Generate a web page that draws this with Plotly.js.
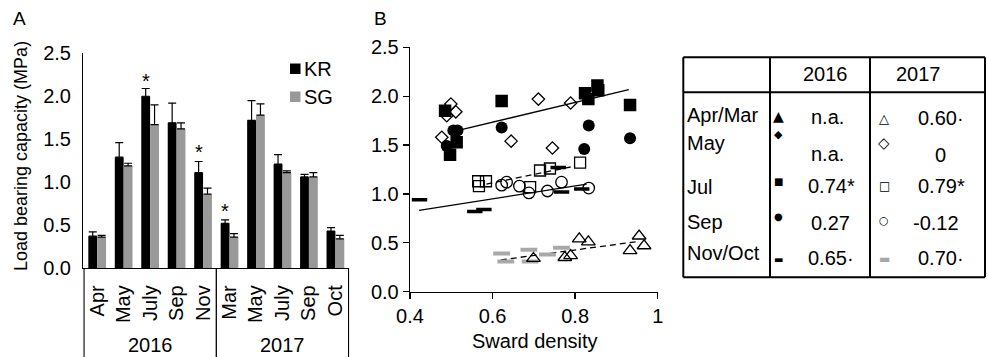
<!DOCTYPE html>
<html>
<head>
<meta charset="utf-8">
<script src="https://cdn.plot.ly/plotly-3.0.1.min.js"></script>
<style>html,body{margin:0;padding:0;background:#fff;}#chart{width:988px;height:357px;}</style>
</head>
<body>
<div id="chart"></div>
<script>
// ---------- Panel A data ----------
const months = ['Apr','May','July','Sep','Nov','Mar','May','July','Sep','Oct'];
const monthYears = ['2016','2016','2016','2016','2016','2017','2017','2017','2017','2017'];
const krValues = [0.37,1.29,2.00,1.69,1.11,0.52,1.72,1.21,1.06,0.43];
const krErr    = [0.05,0.17,0.09,0.23,0.13,0.04,0.23,0.11,0.03,0.04];
const sgValues = [0.36,1.19,1.67,1.62,0.86,0.36,1.78,1.11,1.06,0.34];
const sgErr    = [0.02,0.03,0.23,0.07,0.07,0.04,0.13,0.02,0.05,0.04];
const starIdx  = [2,4,5];
const starY    = [2.235,1.41,0.726];
const yearLabels = ['2016','2017'];

// ---------- Panel B data (sward density vs load bearing capacity) ----------
const jul16X = [0.485,0.497,0.513,0.622,0.824,0.832,0.854,0.856,0.933];
const jul16Y = [1.85,1.40,1.53,1.95,2.03,1.97,2.11,2.06,1.91];
const sep16X = [0.489,0.505,0.515,0.622,0.833,0.822,0.933];
const sep16Y = [1.49,1.65,1.65,1.68,1.70,1.46,1.57];
const nov16X = [0.423,0.557,0.579,0.759,0.767,0.816];
const nov16Y = [0.94,0.82,0.84,1.27,1.02,1.05];
const mar17X = [0.699,0.775,0.789,0.810,0.832,0.933,0.955,0.967];
const mar17Y = [0.34,0.35,0.37,0.54,0.51,0.42,0.57,0.47];
const may17X = [0.477,0.489,0.499,0.511,0.645,0.711,0.745,0.789];
const may17Y = [1.58,1.80,1.92,1.84,1.54,1.97,1.47,1.93];
const jul17X = [0.565,0.567,0.584,0.691,0.715,0.739,0.812];
const jul17Y = [1.13,1.08,1.13,1.07,1.24,1.26,1.32];
const sep17X = [0.622,0.634,0.665,0.688,0.733,0.767,0.833];
const sep17Y = [1.09,1.12,1.08,1.01,1.03,1.12,1.06];
const oct17X = [0.622,0.632,0.688,0.691,0.733,0.767];
const oct17Y = [0.39,0.31,0.43,0.31,0.38,0.45];
// fitted lines (end points)
const fitJul16X = [0.512,0.930]; const fitJul16Y = [1.645,2.068];
const fitNov16X = [0.422,0.828]; const fitNov16Y = [0.833,1.100];
const fitJul17X = [0.585,0.800]; const fitJul17Y = [1.100,1.285];
const fitMar17X = [0.620,0.955]; const fitMar17Y = [0.325,0.515];
const xTicksB = [0.4,0.6,0.8,1];
const xTickTextB = ['0.4','0.6','0.8','1'];

// ---------- Table data ----------
const tableRows = ['Apr/Mar','May','Jul','Sep','Nov/Oct'];
const tableHead = ['2016','2017'];
const r2016 = ['n.a.','n.a.','0.74*','0.27','0.65·'];
const r2017 = ['0.60·','0','0.79*','-0.12','0.70·'];
const sym2016 = ['▲','◆','■','●','▬'];
const sym2017 = ['△','◇','□','○','▬'];

// ---------- helpers ----------
const W = 988, H = 357;
const PX = x => x / W;
const PY = y => 1 - y / H;
const FONT = 'Arial, "Liberation Sans", Helvetica, sans-serif';
const FS = 20;
const catIds = months.map((m, i) => monthYears[i] + ' ' + m);

const traces = [];
traces.push({
  type: 'bar', name: 'KR', x: catIds, y: krValues, xaxis: 'x', yaxis: 'y',
  marker: {color: '#000000'},
  error_y: {type: 'data', array: krErr, arrayminus: krErr.map(() => 0), symmetric: false, color: '#000', thickness: 1.2, width: 4},
  showlegend: false
});
traces.push({
  type: 'bar', name: 'SG', x: catIds, y: sgValues, xaxis: 'x', yaxis: 'y',
  marker: {color: '#999999'},
  error_y: {type: 'data', array: sgErr, arrayminus: sgErr.map(() => 0), symmetric: false, color: '#000', thickness: 1.2, width: 4},
  showlegend: false
});

function lineTrace(xs, ys, dash) {
  return {type: 'scatter', mode: 'lines', x: xs, y: ys, xaxis: 'x2', yaxis: 'y2',
    line: {color: '#000', width: 1.3, dash: dash}, showlegend: false, hoverinfo: 'skip'};
}
function ptTrace(name, xs, ys, marker) {
  return {type: 'scatter', mode: 'markers', name: name, x: xs, y: ys, xaxis: 'x2', yaxis: 'y2',
    marker: marker, showlegend: false};
}
traces.push(lineTrace(fitJul16X, fitJul16Y, 'solid'));
traces.push(lineTrace(fitNov16X, fitNov16Y, 'solid'));
traces.push(lineTrace(fitJul17X, fitJul17Y, '6px,4px'));
traces.push(lineTrace(fitMar17X, fitMar17Y, '6px,4px'));
traces.push(ptTrace('Oct 2017', oct17X, oct17Y, {symbol: 'line-ew', size: 12, line: {color: '#a8a8a8', width: 4}}));
traces.push(ptTrace('Nov 2016', nov16X, nov16Y, {symbol: 'line-ew', size: 11, line: {color: '#000', width: 3.5}}));
traces.push(ptTrace('Jul 2016', jul16X, jul16Y, {symbol: 'square', size: 12.5, color: '#000'}));
traces.push(ptTrace('Sep 2016', sep16X, sep16Y, {symbol: 'circle', size: 12, color: '#000'}));
traces.push(ptTrace('May 2017', may17X, may17Y, {symbol: 'diamond-open', size: 9.5, color: '#000', line: {width: 1.3}}));
traces.push(ptTrace('Jul 2017', jul17X, jul17Y, {symbol: 'square-open', size: 11, color: '#000', line: {width: 1.3}}));
traces.push(ptTrace('Sep 2017', sep17X, sep17Y, {symbol: 'circle-open', size: 11.5, color: '#000', line: {width: 1.3}}));
traces.push(ptTrace('Mar 2017', mar17X, mar17Y, {symbol: 'triangle-up-open', size: 12, color: '#000', line: {width: 1.3}}));

const ann = [];
const shapes = [];
function txt(x, y, text, opts) {
  ann.push(Object.assign({xref: 'paper', yref: 'paper', x: PX(x), y: PY(y), text: text, showarrow: false,
    xanchor: 'center', yanchor: 'middle', font: {family: FONT, size: FS, color: '#000'}}, opts || {}));
}
function hline(x0, x1, y, w) { shapes.push({type: 'line', xref: 'paper', yref: 'paper', x0: PX(x0), x1: PX(x1), y0: PY(y), y1: PY(y), line: {color: '#000', width: w}}); }
function vline(x, y0, y1, w) { shapes.push({type: 'line', xref: 'paper', yref: 'paper', x0: PX(x), x1: PX(x), y0: PY(y0), y1: PY(y1), line: {color: '#000', width: w}}); }

// panel letters and titles
txt(19, 18, 'A', {font: {family: FONT, size: 19, color: '#000'}});
txt(380, 18, 'B', {font: {family: FONT, size: 19, color: '#000'}});
txt(21, 156, 'Load bearing capacity (MPa)', {textangle: -90, font: {family: FONT, size: 18, color: '#000'}});
txt(535, 341, 'Sward density');

// year group labels + dividers under panel A
ann.push({xref: 'x', yref: 'paper', x: 2, y: PY(345), yanchor: 'middle', text: yearLabels[0], showarrow: false, font: {family: FONT, size: FS, color: '#000'}});
ann.push({xref: 'x', yref: 'paper', x: 7, y: PY(345), yanchor: 'middle', text: yearLabels[1], showarrow: false, font: {family: FONT, size: FS, color: '#000'}});
[-0.5, 4.5, 9.5].forEach(v => shapes.push({type: 'line', xref: 'x', yref: 'paper', x0: v, x1: v, y0: 0, y1: PY(268), line: {color: '#000', width: 1.3}}));

// significance stars
starIdx.forEach((i, k) => ann.push({xref: 'x', yref: 'y', x: catIds[i], y: starY[k], yanchor: 'middle', text: '*', showarrow: false,
  xshift: -4.5, yshift: -5, font: {family: FONT, size: 20, color: '#000'}}));

// manual legend
shapes.push({type: 'rect', xref: 'paper', yref: 'paper', x0: PX(290), x1: PX(300.5), y0: PY(74), y1: PY(63.5), fillcolor: '#000', line: {width: 0}});
shapes.push({type: 'rect', xref: 'paper', yref: 'paper', x0: PX(290), x1: PX(300.5), y0: PY(102), y1: PY(91.5), fillcolor: '#999999', line: {width: 0}});
txt(301.5, 69, 'KR', {xanchor: 'left'});
txt(301.5, 97, 'SG', {xanchor: 'left'});

// table
const T = {l: 683.3, r: 985, t: 57.3, b: 277.3, hb: 92.3, c1: 770, c2: 870};
hline(T.l, T.r, T.t, 2); hline(T.l, T.r, T.b, 2); hline(T.l, T.r, T.hb, 2);
vline(T.l, T.t, T.b, 2); vline(T.r, T.t, T.b, 2); vline(T.c1, T.t, T.b, 2); vline(T.c2, T.t, T.b, 2);
txt(825, 74, tableHead[0]);
txt(918, 74, tableHead[1]);
const rowLabY = [115, 143.3, 186.7, 221.7, 253.3];
const v16Y = [117.3, 154, 185.7, 222.7, 258.3];
const v17Y = [118, 155, 185.7, 222.7, 258.3];
const v16X = [809, 809, 806, 809, 806];
const v17X = [916, 933, 916, 911, 916];
const s16Y = [116, 134.3, 181.7, 216.7, 259];
const s17Y = [118.3, 143.3, 185.7, 220, 259.3];
const s16Size = [14, 11, 10, 10, 10];
const s17Size = [13, 15, 12, 11, 12];
tableRows.forEach((r, i) => {
  txt(684.5, rowLabY[i], r, {xanchor: 'left'});
  txt(v16X[i], v16Y[i], r2016[i], {xanchor: 'left'});
  txt(v17X[i], v17Y[i], r2017[i], {xanchor: 'left'});
  txt(778.5, s16Y[i], sym2016[i], {font: {family: '"DejaVu Sans", sans-serif', size: s16Size[i], color: '#000'}});
  txt(884, s17Y[i], sym2017[i], {font: {family: '"DejaVu Sans", sans-serif', size: s17Size[i], color: i === 4 ? '#a8a8a8' : '#000'}});
});

const axisFont = {family: FONT, size: FS, color: '#000'};
const layout = {
  width: W, height: H,
  margin: {l: 0, r: 0, t: 0, b: 0},
  paper_bgcolor: '#fff', plot_bgcolor: 'rgba(0,0,0,0)',
  font: {family: FONT, size: FS, color: '#000'},
  barmode: 'group', bargap: 0.33, bargroupgap: 0,
  showlegend: false,
  xaxis: {domain: [PX(83.3), PX(349.3)], anchor: 'y', type: 'category', categoryorder: 'array', categoryarray: catIds,
    tickmode: 'array', tickvals: catIds, ticktext: months, tickangle: -90, ticks: '', tickfont: axisFont,
    showline: true, linecolor: '#000', linewidth: 1.3, showgrid: false, zeroline: false, ticklabelstandoff: 8, fixedrange: true},
  yaxis: {domain: [PY(268), PY(53.3)], anchor: 'x', range: [0, 2.5], dtick: 0.5, tickformat: '.1f', ticks: '',
    tickfont: axisFont, showline: true, linecolor: '#000', linewidth: 1.3, showgrid: false, zeroline: false, ticklabelstandoff: 7},
  xaxis2: {domain: [PX(410), PX(657.7)], anchor: 'y2', range: [0.4, 1.0], tickmode: 'array', tickvals: xTicksB, ticktext: xTickTextB,
    ticks: 'outside', ticklen: 6, tickcolor: '#000', tickwidth: 1.3, tickfont: axisFont,
    showline: true, linecolor: '#000', linewidth: 1.3, showgrid: false, zeroline: false},
  yaxis2: {domain: [PY(291.7), PY(47.3)], anchor: 'x2', range: [0, 2.5], dtick: 0.5, tickformat: '.1f',
    ticks: 'outside', ticklen: 6, tickcolor: '#000', tickwidth: 1.3, tickfont: axisFont,
    showline: true, linecolor: '#000', linewidth: 1.3, showgrid: false, zeroline: false},
  annotations: ann,
  shapes: shapes
};
Plotly.newPlot('chart', traces, layout, {displayModeBar: false, staticPlot: true});
</script>
</body>
</html>
